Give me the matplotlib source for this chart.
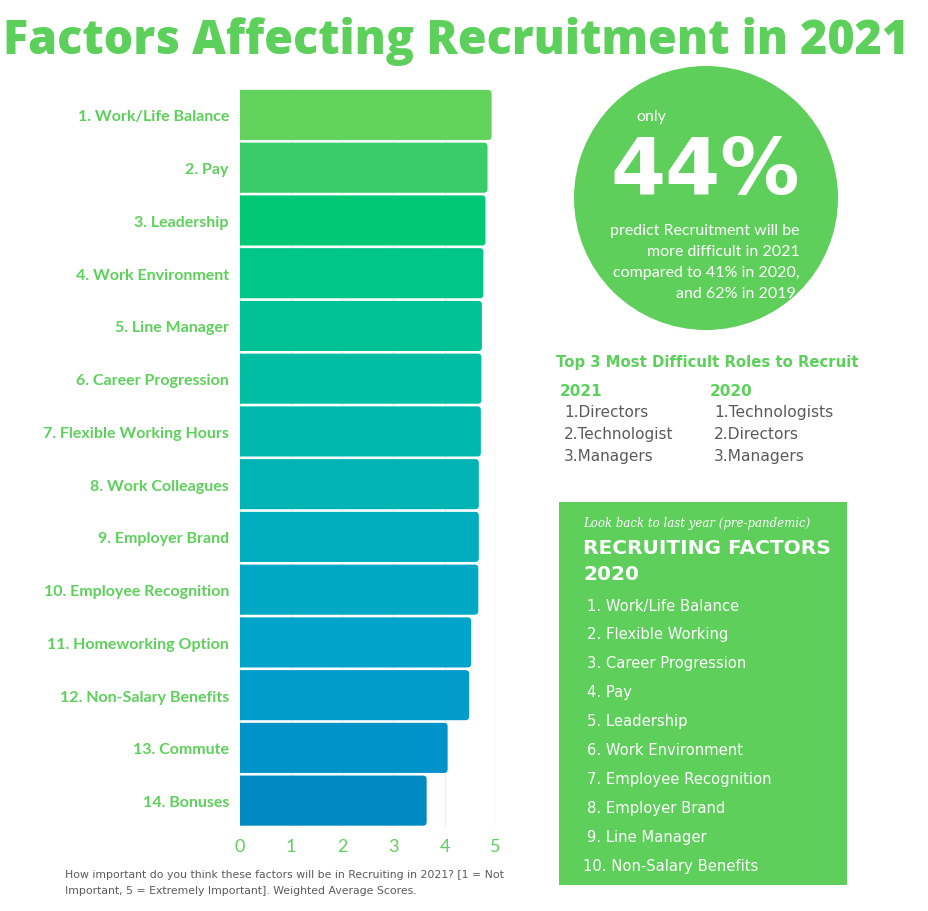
import numpy as np
import matplotlib.pyplot as plt
from matplotlib.patches import Ellipse, Rectangle, FancyBboxPatch

# data
factors = ['1. Work/Life Balance', '2. Pay', '3. Leadership', '4. Work Environment',
           '5. Line Manager', '6. Career Progression', '7. Flexible Working Hours',
           '8. Work Colleagues', '9. Employer Brand', '10. Employee Recognition',
           '11. Homeworking Option', '12. Non-Salary Benefits', '13. Commute', '14. Bonuses']
scores = [4.92, 4.84, 4.80, 4.76, 4.73, 4.72, 4.71, 4.67, 4.67, 4.66, 4.52, 4.48, 4.06, 3.65]
bar_colors = ['#62D35D', '#3BCC6A', '#00C875', '#00C688', '#00C296', '#00BEA3', '#00B8AE',
              '#00B4B6', '#00ADBE', '#00A8C5', '#00A3C9', '#009DCB', '#0093C9', '#0089C3']

roles_2021 = ['Directors', 'Technologist', 'Managers']
roles_2020 = ['Technologists', 'Directors', 'Managers']
factors_2020 = ['Work/Life Balance', 'Flexible Working', 'Career Progression', 'Pay',
                'Leadership', 'Work Environment', 'Employee Recognition', 'Employer Brand',
                'Line Manager', 'Non-Salary Benefits']

GREEN = '#5DD05B'
GRAY = '#5a5a5a'
W, H = 929, 912

fig = plt.figure(figsize=(W / 100, H / 100), dpi=100)
fig.patch.set_facecolor('white')


def fx(px):
    return px / W


def fy(py):
    return 1 - py / H


# bar chart
ax = fig.add_axes([fx(240), fy(828), (495.7 - 240) / W, (828 - 89.6) / H])
y = np.arange(len(factors))
bh = 0.95
for yi, v, c in zip(y, scores, bar_colors):
    # start a bit left of 0 so only the right-hand corners show rounded
    ax.add_patch(FancyBboxPatch((-0.2, yi - bh / 2), v + 0.2, bh,
                                boxstyle='round,pad=0,rounding_size=0.07',
                                facecolor=c, edgecolor='none', zorder=2))
ax.set_xlim(0, 5)
ax.set_ylim(len(factors) - 0.5, -0.5)
ax.set_xticks([0, 1, 2, 3, 4, 5])
ax.set_yticks(y)
ax.set_yticklabels(factors, fontsize=11.5, fontweight='bold', color=GREEN, family='Lato')
for lab in ax.get_xticklabels():
    lab.set_color(GREEN)
    lab.set_fontsize(13)
    lab.set_family('Lato')
ax.tick_params(axis='both', length=0)
ax.tick_params(axis='y', pad=8)
ax.tick_params(axis='x', pad=8)
ax.grid(axis='x', color='#E2F6E1', linewidth=1, zorder=0)
for s in ax.spines.values():
    s.set_visible(False)

# title
fig.text(fx(456), fy(54), 'Factors Affecting Recruitment in 2021', ha='center', va='baseline',
         fontsize=33.5, fontweight=800, color=GREEN, family='Open Sans')

# circle
cx, cy, r = 706, 199, 132
fig.patches.append(Ellipse((fx(cx), fy(cy)), 2 * r / W, 2 * r / H, transform=fig.transFigure,
                           facecolor='#5ECF5B', edgecolor='none'))
fig.text(fx(636), fy(117), 'only', ha='left', va='center', fontsize=11.5, color='white', family='Lato')
fig.text(fx(705), fy(172), '44%', ha='center', va='center', fontsize=57, fontweight='bold',
         color='white', family='DejaVu Sans')
circle_lines = ['predict Recruitment will be', 'more difficult in 2021',
                'compared to 41% in 2020,', 'and 62% in 2019.']
for i, t in enumerate(circle_lines):
    fig.text(fx(800), fy(231 + i * 21), t, ha='right', va='center', fontsize=11.5,
             color='white', family='Lato')

# difficult roles
fig.text(fx(556), fy(363), 'Top 3 Most Difficult Roles to Recruit', ha='left', va='center',
         fontsize=10.7, fontweight='bold', color=GREEN, family='DejaVu Sans')
fig.text(fx(560), fy(392), '2021', ha='left', va='center', fontsize=11, fontweight='bold',
         color=GREEN, family='DejaVu Sans')
fig.text(fx(710), fy(392), '2020', ha='left', va='center', fontsize=11, fontweight='bold',
         color=GREEN, family='DejaVu Sans')
for i, (a, b) in enumerate(zip(roles_2021, roles_2020)):
    fig.text(fx(564), fy(413 + i * 22), f'{i + 1}.{a}', ha='left', va='center',
             fontsize=11, color=GRAY, family='DejaVu Sans')
    fig.text(fx(714), fy(413 + i * 22), f'{i + 1}.{b}', ha='left', va='center',
             fontsize=11.2, color=GRAY, family='DejaVu Sans')

# 2020 factors box
fig.patches.append(Rectangle((fx(559), fy(886)), (847 - 559) / W, (886 - 503) / H,
                             transform=fig.transFigure, facecolor='#5ECF5B', edgecolor='none'))
fig.text(fx(583), fy(523), 'Look back to last year (pre-pandemic)', ha='left', va='center',
         fontsize=8.5, style='italic', color='white', family='DejaVu Serif')
fig.text(fx(583), fy(549), 'RECRUITING FACTORS', ha='left', va='center', fontsize=14.5,
         fontweight='bold', color='white', family='DejaVu Sans')
fig.text(fx(583), fy(575), '2020', ha='left', va='center', fontsize=14.5,
         fontweight='bold', color='white', family='DejaVu Sans')
for i, t in enumerate(factors_2020):
    x0 = 587 if i < 9 else 583
    fig.text(fx(x0), fy(606 + i * 28.9), f'{i + 1}. {t}', ha='left', va='center',
             fontsize=10.6, color='white', family='DejaVu Sans')

# footnote
fig.text(fx(65), fy(875), 'How important do you think these factors will be in Recruiting in 2021? [1 = Not',
         ha='left', va='center', fontsize=7.8, color=GRAY, family='DejaVu Sans')
fig.text(fx(65), fy(891), 'Important, 5 = Extremely Important]. Weighted Average Scores.',
         ha='left', va='center', fontsize=7.8, color=GRAY, family='DejaVu Sans')

plt.savefig('out.png', dpi=100)
